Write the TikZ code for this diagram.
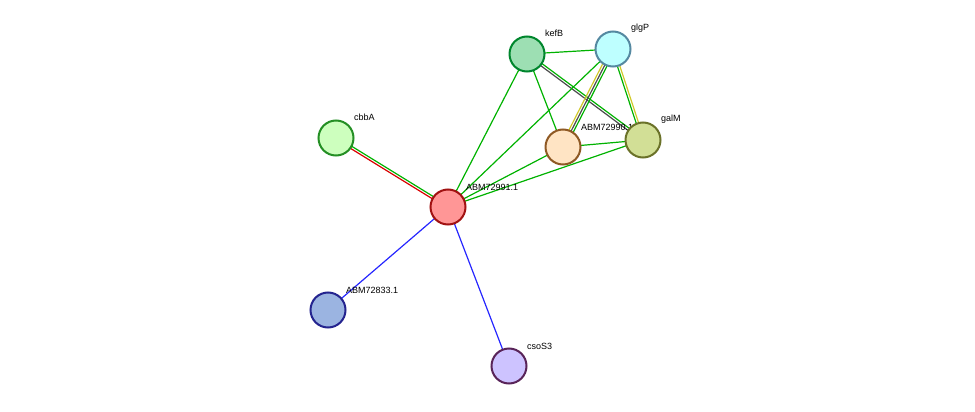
\documentclass[tikz,border=0pt]{standalone}
\usepackage{fontspec}
\setmainfont{Liberation Sans}
\usetikzlibrary{calc}
\begin{document}
\begin{tikzpicture}[x=1pt,y=-1pt,
 prot/.style={circle,draw=#1!70!black,line width=2pt,minimum size=35pt,inner sep=0pt},
 lab/.style={font=\fontsize{9}{9}\selectfont,anchor=south west,inner sep=0pt},
 e/.style={line width=1.2pt}]
\useasboundingbox (0,0) rectangle (975,412);
\coordinate (c) at (448,207);
\coordinate (kefB) at (527,54);
\coordinate (glgP) at (613,49);
\coordinate (abm) at (563,147);
\coordinate (galM) at (643,140);
\coordinate (cbbA) at (336,138);
\coordinate (a833) at (328,310);
\coordinate (cso) at (509,366);
\newcommand{\pe}[4]{\draw[e,#4] ($(#1)!#3!90:(#2)$) -- ($(#2)!#3!-90:(#1)$);}
\pe{kefB}{glgP}{0pt}{green!70!black}
\pe{kefB}{galM}{1.2pt}{green!70!black}
\pe{kefB}{galM}{-1.2pt}{black!70}
\pe{kefB}{abm}{0pt}{green!70!black}
\pe{kefB}{c}{0pt}{green!70!black}
\pe{glgP}{abm}{2.4pt}{green!70!black}
\pe{glgP}{abm}{0pt}{black!70}
\pe{glgP}{abm}{-2.4pt}{yellow!80!black}
\pe{glgP}{galM}{-1.2pt}{green!70!black}
\pe{glgP}{galM}{1.2pt}{yellow!80!black}
\pe{glgP}{c}{0pt}{green!70!black}
\pe{abm}{galM}{0pt}{green!70!black}
\pe{abm}{c}{0pt}{green!70!black}
\pe{galM}{c}{0pt}{green!70!black}
\pe{cbbA}{c}{1.2pt}{green!70!black}
\pe{cbbA}{c}{-1.2pt}{red!85!black}
\pe{c}{a833}{0pt}{blue!85!white}
\pe{c}{cso}{0pt}{blue!85!white}
\node[prot=green!50!teal, fill={rgb,255:red,157;green,223;blue,179}] (nkefB) at (kefB) {};
\node[prot=cyan!70!gray, fill={rgb,255:red,190;green,255;blue,255}] (nglgP) at (glgP) {};
\node[prot=brown!80!orange, fill={rgb,255:red,255;green,228;blue,196}] (nabm) at (abm) {};
\node[lab] at (581,131) {ABM72990.1};
\node[prot=olive!80!green, fill={rgb,255:red,210;green,223;blue,150}] (ngalM) at (galM) {};
\node[prot=green!60!gray, fill={rgb,255:red,205;green,255;blue,190}] (ncbbA) at (cbbA) {};
\node[prot=red!80!gray, fill={rgb,255:red,255;green,150;blue,150}] (nc) at (c) {};
\node[prot=blue!60!gray, fill={rgb,255:red,155;green,180;blue,225}] (na833) at (a833) {};
\node[prot=violet!60!gray, fill={rgb,255:red,205;green,195;blue,255}] (ncso) at (cso) {};
\node[lab] at (545,37) {kefB};
\node[lab] at (631,33) {glgP};
\node[lab] at (661,124) {galM};
\node[lab] at (354,121) {cbbA};
\node[lab] at (466,191) {ABM72991.1};
\node[lab] at (346,294) {ABM72833.1};
\node[lab] at (527,350) {csoS3};
\end{tikzpicture}
\end{document}
